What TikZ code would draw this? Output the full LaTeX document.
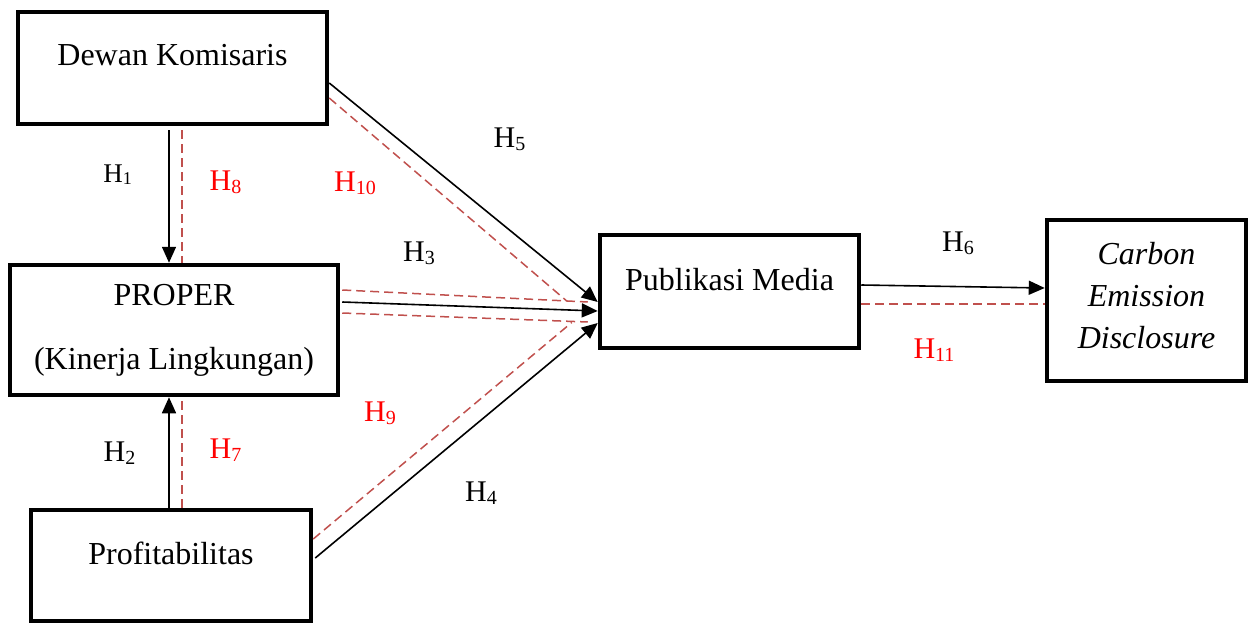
\documentclass[tikz,border=0pt]{standalone}
\usepackage{fontspec}
\setmainfont{Liberation Serif}
\usetikzlibrary{arrows.meta}
\definecolor{hypred}{HTML}{C0504D}
% hypothesis label: H with a lowered, smaller index
\newcommand{\hyp}[1]{H\raisebox{-3pt}{\fontsize{20}{20}\selectfont #1}}
% shift the ink of a box up without changing its reported size
\newcommand{\lift}[2]{\raisebox{#1}[\height][\depth]{#2}}

\begin{document}
\begin{tikzpicture}[x=1pt,y=-1pt,
  box/.style={draw, line width=4.5pt, inner sep=0pt, align=center,
              font=\fontsize{32}{36}\selectfont},
  arr/.style={-{Triangle[length=16pt,width=14pt]}, line width=1.6pt},
  hdash/.style={hypred, line width=1.5pt, dash pattern=on 9pt off 5pt},
  hlab/.style={font=\fontsize{30}{34}\selectfont, inner sep=0pt},
  hlabred/.style={hlab, text=red}]
\useasboundingbox (0,0) rectangle (1254,626);

% variables
\node[box, minimum width=309, minimum height=112] (dk) at (172.5,68)
  {\lift{13pt}{Dewan Komisaris}};
\node[box, minimum width=328, minimum height=130,
      font=\fontsize{32}{64}\selectfont] (pr) at (174,330)
  {PROPER\\(Kinerja Lingkungan)};
\node[box, minimum width=280, minimum height=111] (pf) at (171,565.5)
  {\lift{12pt}{Profitabilitas}};
\node[box, minimum width=259, minimum height=113] (pub) at (729.5,291.5)
  {\lift{12pt}{Publikasi Media}};
\node[box, minimum width=199, minimum height=161,
      font=\fontsize{32}{42}\selectfont\itshape] (ce) at (1146.5,300.5)
  {\lift{5pt}{Carbon}\\\lift{5pt}{Emission}\\\lift{5pt}{Disclosure}};

% direct paths
\draw[arr, shorten <=4pt] ([xshift=-3.5]dk.south) -- ([xshift=-5]pr.north);
\draw[arr] ([xshift=-2]pf.north) -- ([xshift=-5]pr.south);
\draw[arr] ([yshift=-15]dk.east) -- ([yshift=-10.5]pub.west);
\draw[arr] ([xshift=2,yshift=28]pr.east) -- ([yshift=-19.5]pub.west);
\draw[arr] ([xshift=2,yshift=7.5]pf.east) -- ([yshift=-31.5]pub.west);
\draw[arr] ([yshift=6.5]pub.east) -- ([yshift=12.5]ce.west);

% mediated paths
\draw[hdash, shorten <=4pt] ([xshift=9.5]dk.south) -- ([xshift=8]pr.north);
\draw[hdash] ([xshift=11]pf.north) -- ([xshift=8]pr.south);
\draw[hdash] ([yshift=-30]dk.east) -- ([xshift=-31,yshift=-9.5]pub.west);
\draw[hdash] ([xshift=2,yshift=40]pr.east) -- ([xshift=-10,yshift=-10.5]pub.west);
\draw[hdash] ([xshift=2,yshift=17]pr.east) -- ([xshift=-10,yshift=-30.5]pub.west);
\draw[hdash] ([yshift=26.5]pf.east) -- ([xshift=-26,yshift=-31]pub.west);
\draw[hdash] ([yshift=-12.5]pub.east) -- ([yshift=-3.5]ce.west);

% hypothesis labels
\node[hlab, font=\fontsize{27}{30}\selectfont] (h1) at (117.5,175)
  {H\raisebox{-2pt}{\fontsize{18}{18}\selectfont 1}};
\node[hlab] (h2) at (119.5,453) {\hyp{2}};
\node[hlab] (h3) at (419,253) {\hyp{3}};
\node[hlab] (h4) at (481,493) {\hyp{4}};
\node[hlab] (h5) at (509.5,139) {\hyp{5}};
\node[hlab] (h6) at (958,243) {\hyp{6}};
\node[hlabred] (h7) at (225.5,450) {\hyp{7}};
\node[hlabred] (h8) at (225.5,182) {\hyp{8}};
\node[hlabred] (h9) at (380,413) {\hyp{9}};
\node[hlabred] (h10) at (355,183) {\hyp{10}};
\node[hlabred] (h11) at (934,350) {\hyp{11}};
\end{tikzpicture}
\end{document}
